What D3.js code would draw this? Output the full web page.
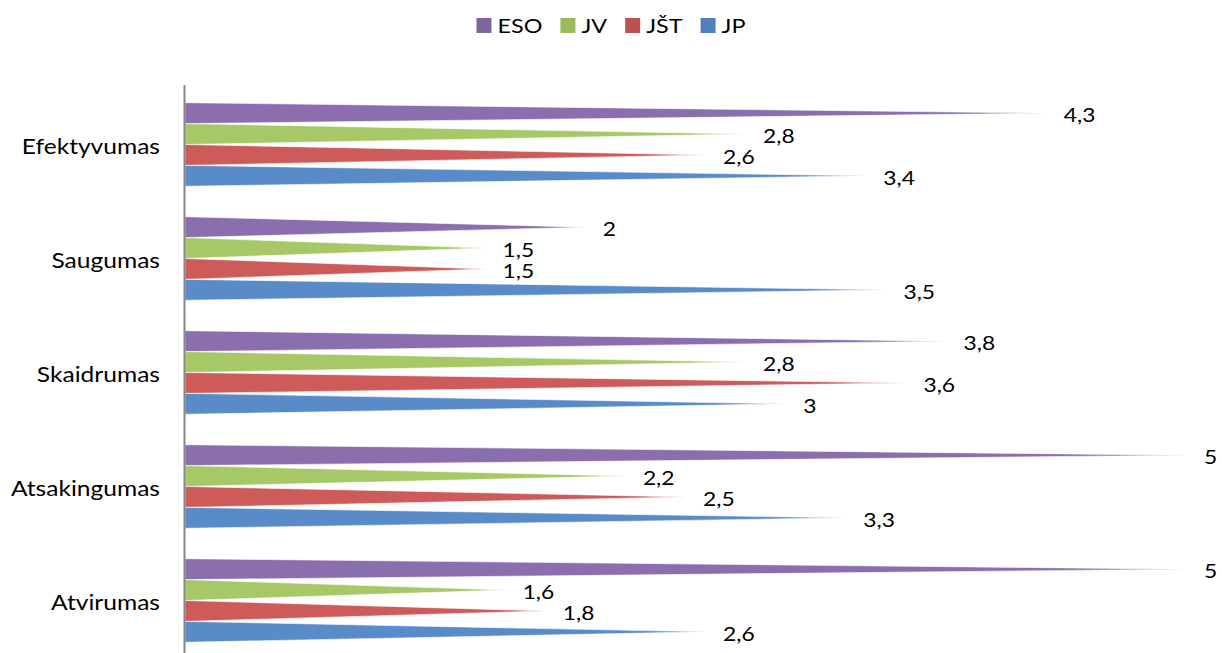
<!DOCTYPE html>
<html>
<head>
<meta charset="utf-8">
<script src="https://cdn.jsdelivr.net/npm/d3@7"></script>
<style>
  html, body { margin: 0; padding: 0; background: #fff; }
  svg { display: block; }
  text { font-family: Lato, "Open Sans", sans-serif; fill: #000; }
</style>
</head>
<body>
<svg id="chart" width="1222" height="653"></svg>
<script>
// ---- data ----
const categories = ["Efektyvumas", "Saugumas", "Skaidrumas", "Atsakingumas", "Atvirumas"];
const seriesNames = ["ESO", "JV", "JŠT", "JP"];
const ESO = [4.3, 2, 3.8, 5, 5];
const JV  = [2.8, 1.5, 2.8, 2.2, 1.6];
const JST = [2.6, 1.5, 3.6, 2.5, 1.8];
const JP  = [3.4, 3.5, 3, 3.3, 2.6];
const seriesValues = [ESO, JV, JST, JP];
const legendColors = ["#8064A2", "#9BBB59", "#C0504D", "#4F81BD"];
const barColors = ["#8A6EAD", "#A7C867", "#CD5B5A", "#5A8BC9"];
const valueDomain = [0, 5];

// ---- layout ----
const W = 1222, H = 653;
const SX = 1.17; // horizontal text stretch of the reference
const svg = d3.select("#chart");

const x = d3.scaleLinear().domain(valueDomain).range([185, 1187]);
const y = d3.scaleBand().domain(categories).range([87.5, 657.5])
  .paddingInner(0.267).paddingOuter(0.1335);
const ys = d3.scaleBand().domain(seriesNames).range([0, y.bandwidth()]);

const fmt = v => String(v).replace(".", ",");

const rows = [];
categories.forEach((c, ci) => {
  seriesNames.forEach((s, si) => {
    rows.push({ c, s, si, v: seriesValues[si][ci] });
  });
});

const g = svg.append("g");
g.selectAll("path.bar").data(rows).enter().append("path")
  .attr("class", "bar")
  .attr("d", d => {
    const top = y(d.c) + ys(d.s);
    const bot = top + ys.bandwidth();
    const mid = (top + bot) / 2;
    const x0 = x(0), x1 = x(d.v);
    return `M${x0},${top}L${x1},${mid}L${x0},${bot}Z`;
  })
  .attr("fill", d => barColors[d.si])
  .attr("stroke", "#fff")
  .attr("stroke-width", 0.6);

// value labels
g.selectAll("text.val").data(rows).enter().append("text")
  .attr("class", "val")
  .attr("transform", d => {
    const mid = y(d.c) + ys(d.s) + ys.bandwidth() / 2;
    return `translate(${x(d.v) + 17},${mid + 9}) scale(${SX},1)`;
  })
  .style("font-size", "19.5px")
  .text(d => fmt(d.v));

// vertical axis line
svg.append("line")
  .attr("x1", 184.5).attr("x2", 184.5)
  .attr("y1", 85).attr("y2", H)
  .attr("stroke", "#878787").attr("stroke-width", 2);

// category labels
svg.selectAll("text.cat").data(categories).enter().append("text")
  .attr("class", "cat")
  .attr("text-anchor", "end")
  .attr("transform", d => `translate(160,${y(d) + y.bandwidth() / 2 + 9.2}) scale(${SX},1)`)
  .style("font-size", "21px")
  .text(d => d);

// legend
const lg = svg.append("g");
const items = lg.selectAll("g.item").data(seriesNames).enter().append("g").attr("class", "item");
items.append("rect").attr("width", 15).attr("height", 15).attr("y", 18)
  .attr("fill", (d, i) => legendColors[i]);
const lt = items.append("text")
  .style("font-size", "20px")
  .text(d => d);
const widths = [];
lt.each(function () { widths.push(this.getComputedTextLength() * SX); });
const itemW = widths.map(w => 15 + 6 + w);
const gap = 18;
const total = d3.sum(itemW) + gap * (itemW.length - 1);
let cx = W / 2 - total / 2;
items.each(function (d, i) {
  const it = d3.select(this);
  it.attr("transform", `translate(${cx},0)`);
  it.select("text").attr("transform", `translate(21,33.3) scale(${SX},1)`);
  cx += itemW[i] + gap;
});
</script>
</body>
</html>
